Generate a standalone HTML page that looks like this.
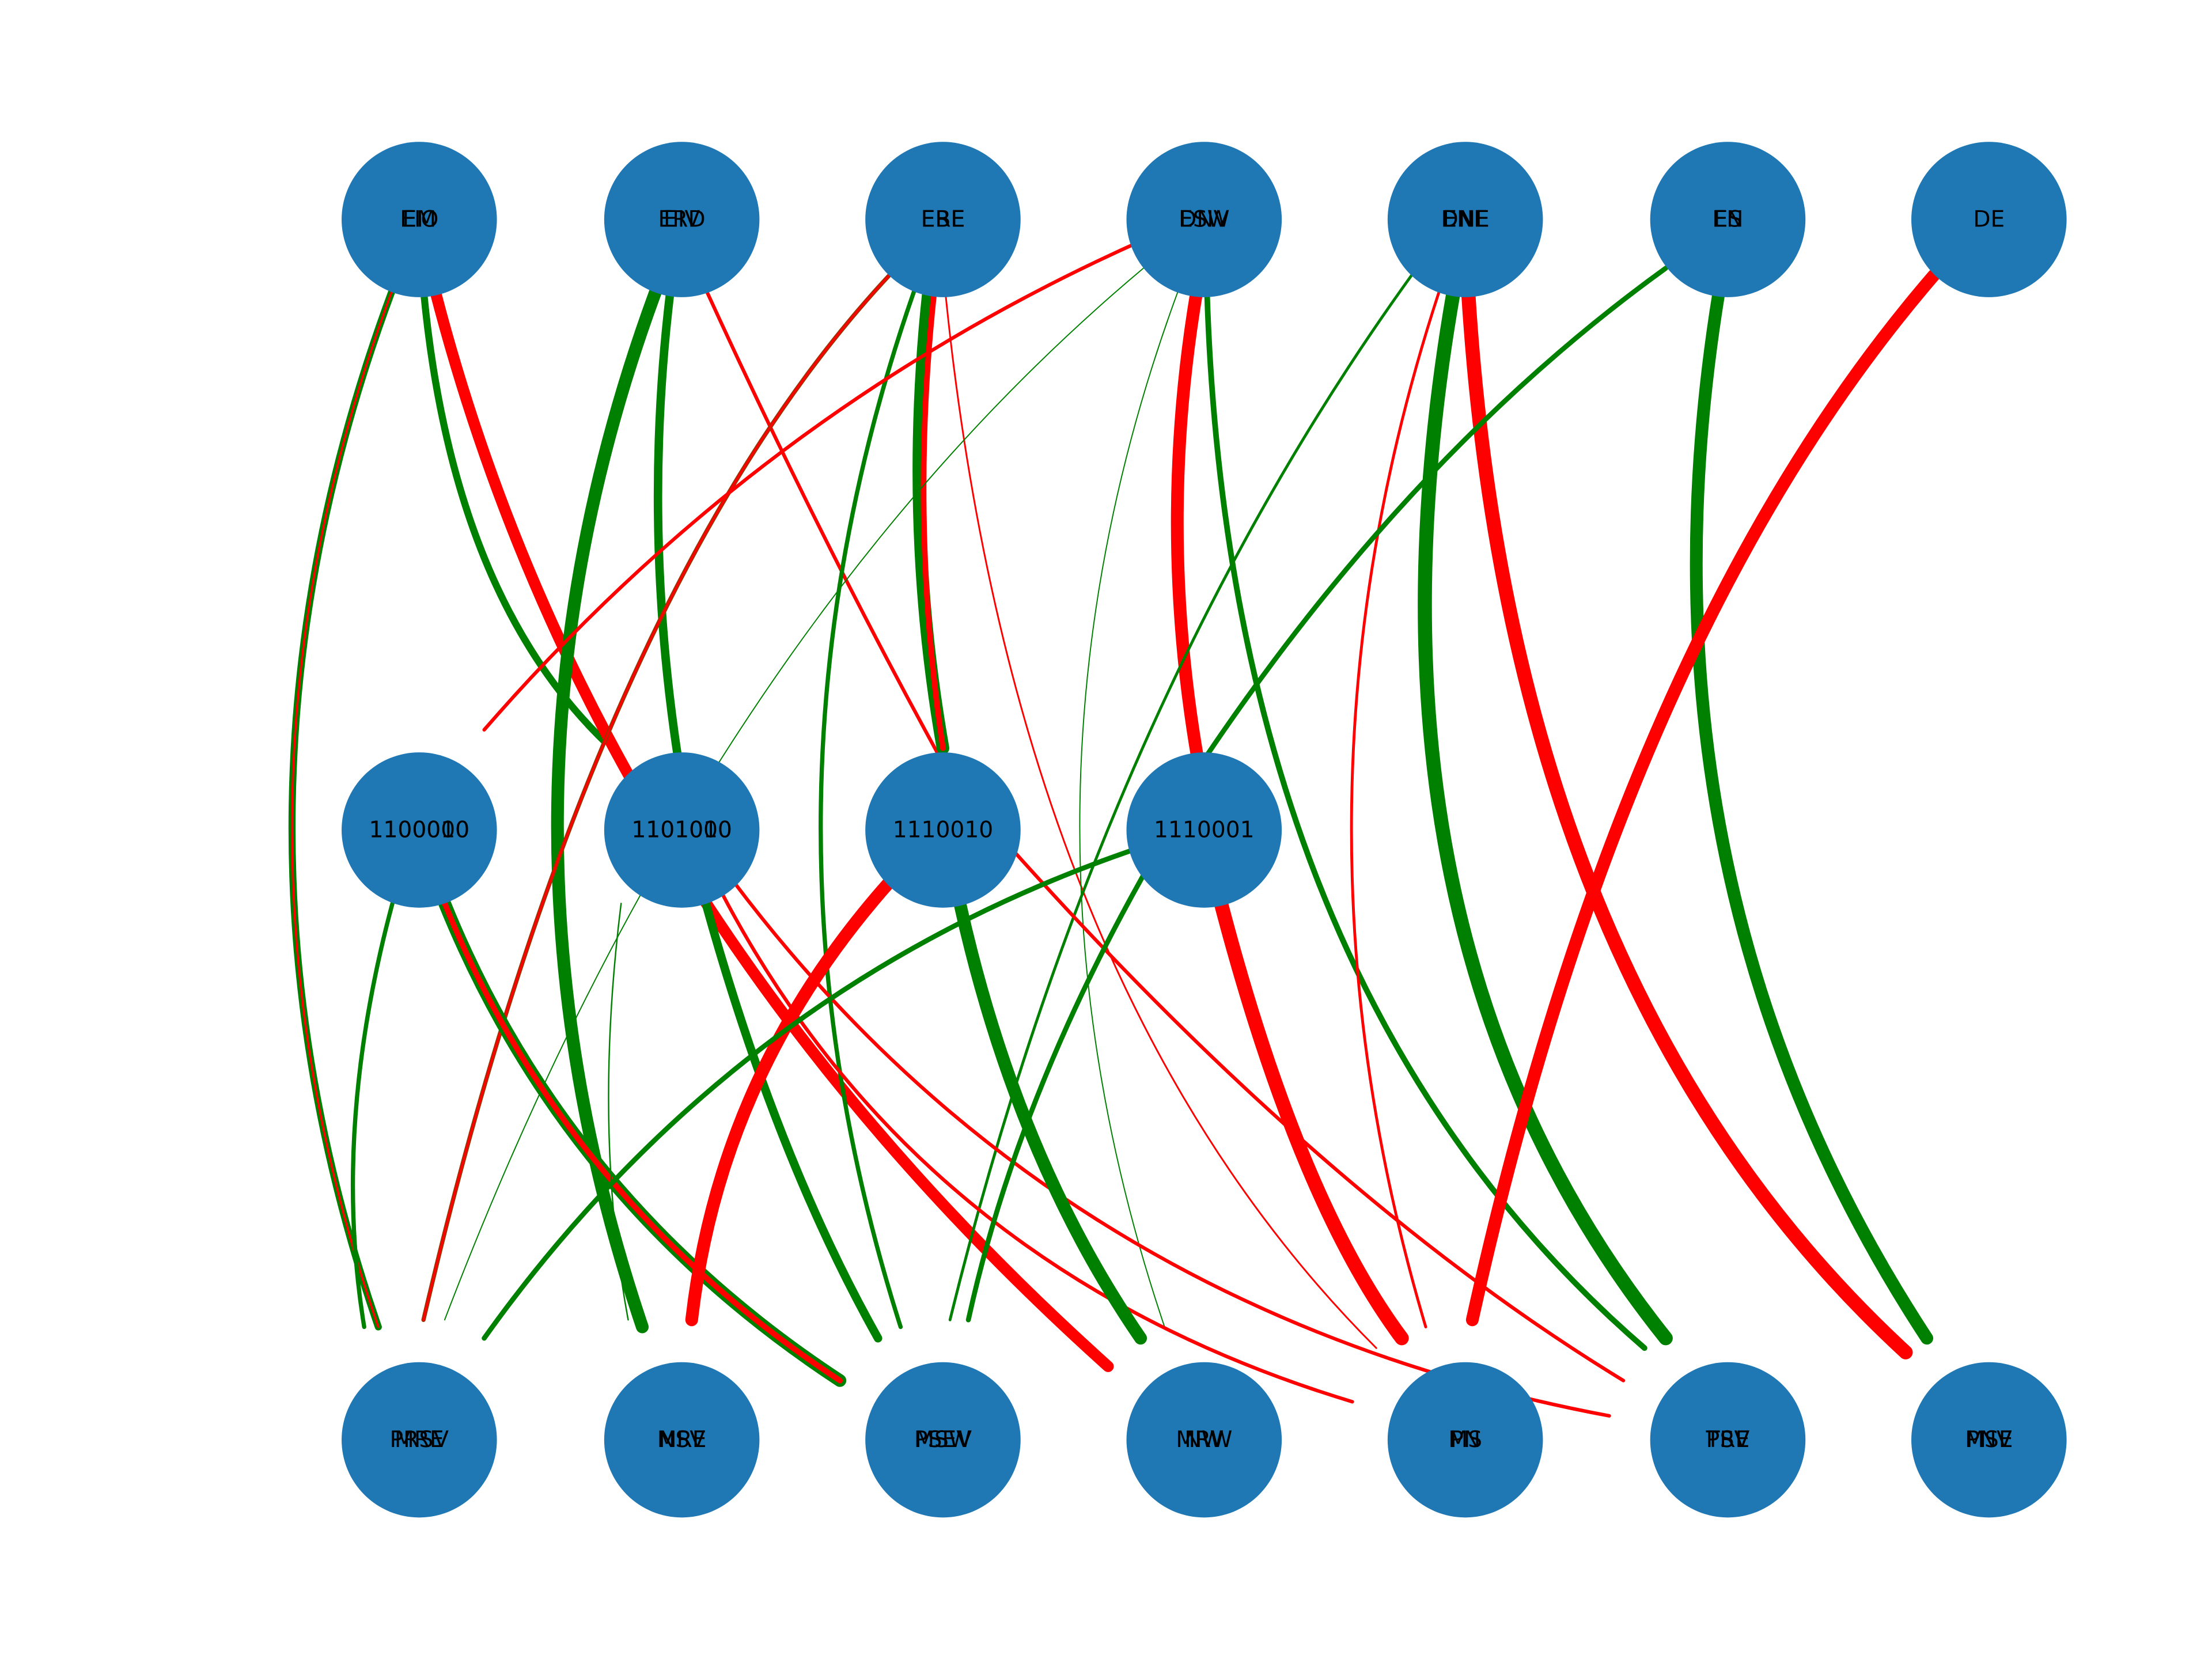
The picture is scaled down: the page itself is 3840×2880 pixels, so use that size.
<!DOCTYPE html>
<html><head><meta charset="utf-8"><style>html,body{margin:0;padding:0;background:#fff}svg{display:block}</style></head>
<body>
<svg width="3840" height="2880" viewBox="0 0 1567 1175.25" xmlns="http://www.w3.org/2000/svg">
<rect width="1567" height="1176" fill="#fff"/>
<g fill="none" stroke-linecap="round">
<path d="M280,200 Q140,570 268,940" stroke="green" stroke-width="5"/>
<path d="M280,200 Q140,570 268,940" stroke="red" stroke-width="1.5"/>
<path d="M300,205 Q320,420 428,525" stroke="green" stroke-width="5"/>
<path d="M308,205 Q420,640 785,968" stroke="red" stroke-width="8"/>
<path d="M465,205 Q330,570 455,940" stroke="green" stroke-width="9"/>
<path d="M475,205 Q455,370 480,535" stroke="green" stroke-width="6"/>
<path d="M500,205 Q580,380 665,535" stroke="red" stroke-width="2.5"/>
<path d="M630,195 Q420,420 300,935" stroke="#a03000" stroke-width="3"/>
<path d="M630,195 Q420,420 300,935" stroke="red" stroke-width="1.5"/>
<path d="M648,205 Q520,570 638,940" stroke="green" stroke-width="3"/>
<path d="M658,205 Q640,370 668,530" stroke="green" stroke-width="9"/>
<path d="M662,205 Q644,370 668,530" stroke="red" stroke-width="4"/>
<path d="M670,210 Q720,700 975,955" stroke="red" stroke-width="1.2"/>
<path d="M810,170 Q540,290 343,517" stroke="red" stroke-width="2.5"/>
<path d="M810,190 Q500,450 315,935" stroke="green" stroke-width="0.8"/>
<path d="M835,205 Q700,570 825,940" stroke="green" stroke-width="0.8"/>
<path d="M848,205 Q820,370 848,535" stroke="red" stroke-width="9"/>
<path d="M855,205 Q870,700 1165,955" stroke="green" stroke-width="4"/>
<path d="M1000,195 Q780,500 673,935" stroke="green" stroke-width="2"/>
<path d="M1020,205 Q900,570 1010,940" stroke="red" stroke-width="2"/>
<path d="M1030,205 Q950,660 1180,948" stroke="green" stroke-width="10"/>
<path d="M1040,205 Q1070,700 1350,958" stroke="red" stroke-width="10"/>
<path d="M1180,190 Q1000,320 855,535" stroke="green" stroke-width="3.5"/>
<path d="M1218,205 Q1150,620 1365,948" stroke="green" stroke-width="9"/>
<path d="M1370,195 Q1150,450 1043,935" stroke="red" stroke-width="9"/>
<path d="M278,640 Q235,800 258,940" stroke="green" stroke-width="3"/>
<path d="M315,640 Q400,850 595,978" stroke="green" stroke-width="9"/>
<path d="M315,640 Q400,850 595,978" stroke="red" stroke-width="4"/>
<path d="M440,640 Q420,800 445,935" stroke="green" stroke-width="1"/>
<path d="M500,640 Q550,820 622,948" stroke="green" stroke-width="6"/>
<path d="M510,630 Q650,900 958,993" stroke="red" stroke-width="2.5"/>
<path d="M520,625 Q750,930 1140,1003" stroke="red" stroke-width="2.5"/>
<path d="M630,625 Q510,760 490,935" stroke="red" stroke-width="9"/>
<path d="M680,640 Q720,820 808,948" stroke="green" stroke-width="9"/>
<path d="M720,605 Q940,850 1150,978" stroke="red" stroke-width="2.5"/>
<path d="M800,603 Q520,700 343,948" stroke="green" stroke-width="3.5"/>
<path d="M810,620 Q720,780 686,935" stroke="green" stroke-width="3.5"/>
<path d="M865,640 Q920,850 993,948" stroke="red" stroke-width="10"/>
</g>
<g fill="#1f77b4">
<circle cx="297" cy="155.5" r="55"/><circle cx="483" cy="155.5" r="55"/><circle cx="668" cy="155.5" r="55"/><circle cx="853" cy="155.5" r="55"/><circle cx="1038" cy="155.5" r="55"/><circle cx="1224" cy="155.5" r="55"/><circle cx="1409" cy="155.5" r="55"/>
<circle cx="297" cy="588" r="55"/><circle cx="483" cy="588" r="55"/><circle cx="668" cy="588" r="55"/><circle cx="853" cy="588" r="55"/>
<circle cx="297" cy="1020" r="55"/><circle cx="483" cy="1020" r="55"/><circle cx="668" cy="1020" r="55"/><circle cx="853" cy="1020" r="55"/><circle cx="1038" cy="1020" r="55"/><circle cx="1224" cy="1020" r="55"/><circle cx="1409" cy="1020" r="55"/>
</g>
<g font-family="'DejaVu Sans','Liberation Sans',sans-serif" font-size="16" fill="#000" text-anchor="middle" dominant-baseline="central">
<text x="297" y="155.5">EM</text><text x="297" y="155.5">EIO</text>
<text x="483" y="155.5">ERD</text><text x="483" y="155.5">EIV</text>
<text x="668" y="155.5">ERE</text><text x="668" y="155.5">EBE</text>
<text x="853" y="155.5">ESW</text><text x="853" y="155.5">DNV</text>
<text x="1038" y="155.5">ENE</text><text x="1038" y="155.5">DNE</text>
<text x="1224" y="155.5">ES</text><text x="1224" y="155.5">EN</text>
<text x="1409" y="155.5">DE</text>
<text x="297" y="588">1100000</text><text x="297" y="588">1100010</text>
<text x="483" y="588">1101000</text><text x="483" y="588">1101010</text>
<text x="668" y="588">1110010</text>
<text x="853" y="588">1110001</text>
<text x="297" y="1020">MRE</text><text x="297" y="1020">PRSV</text>
<text x="483" y="1020">MRE</text><text x="483" y="1020">NSV</text>
<text x="668" y="1020">MSW</text><text x="668" y="1020">PSEV</text>
<text x="853" y="1020">NW</text><text x="853" y="1020">MRW</text>
<text x="1038" y="1020">MS</text><text x="1038" y="1020">PN</text>
<text x="1224" y="1020">PRE</text><text x="1224" y="1020">TSV</text>
<text x="1409" y="1020">MSE</text><text x="1409" y="1020">PNV</text>
</g>
</svg>
</body></html>
